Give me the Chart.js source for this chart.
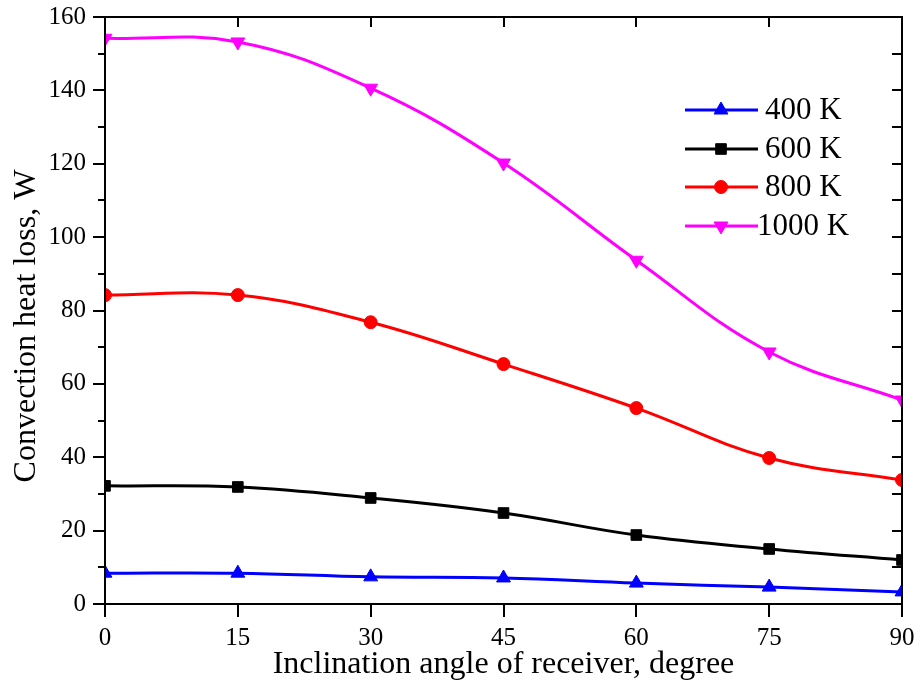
<!DOCTYPE html>
<html><head><meta charset="utf-8">
<script src="https://cdn.jsdelivr.net/npm/chart.js@4/dist/chart.umd.min.js"></script>
<style>html,body{margin:0;padding:0;background:#fff}#wrap{width:916px;height:687px}</style>
</head><body><div id="wrap"><canvas id="c" width="916" height="687"></canvas></div>
<script>
const angles = [0, 15, 30, 45, 60, 75, 90];
const loss400 = [8.4, 8.4, 7.4, 7.1, 5.7, 4.6, 3.3];
const loss600 = [32.2, 31.9, 28.9, 24.8, 18.8, 15.0, 12.0];
const loss800 = [84.2, 84.2, 76.8, 65.4, 53.4, 39.8, 33.8];
const loss1000 = [154.2, 153.2, 140.6, 120.2, 93.7, 68.7, 55.6];
const seriesLabels = ['400 K', '600 K', '800 K', '1000 K'];
const yTicks = [0, 20, 40, 60, 80, 100, 120, 140, 160];
const xTicks = [0, 15, 30, 45, 60, 75, 90];
const xTitle = 'Inclination angle of receiver, degree';
const yTitle = 'Convection heat loss, W';

const FONT = "'Liberation Serif', 'Times New Roman', serif";
function ds(label, vals, color, style, radius, rot) {
  return {
    label, data: angles.map((a, i) => ({x: a, y: vals[i]})),
    borderColor: color, backgroundColor: color, borderWidth: 3,
    pointStyle: style, pointRadius: radius, pointRotation: rot || 0,
    pointBorderWidth: 1, tension: 0.4
  };
}
const datasets = [
  ds(seriesLabels[0], loss400, '#0000ff', 'triangle', 8),
  ds(seriesLabels[1], loss600, '#000000', 'rect', 7.5),
  ds(seriesLabels[2], loss800, '#ff0000', 'circle', 6.5),
  ds(seriesLabels[3], loss1000, '#ff00ff', 'triangle', 8, 180)
];

const framePlugin = {
  id: 'frame',
  afterDatasetsDraw(chart) {
    const {ctx, chartArea: a, scales: {x, y}} = chart;
    ctx.save();
    ctx.strokeStyle = '#000'; ctx.lineWidth = 2;
    ctx.strokeRect(a.left, a.top, a.right - a.left, a.bottom - a.top);
    ctx.beginPath();
    for (let v = 0; v <= 160; v += 10) {
      const py = Math.round(y.getPixelForValue(v));
      const major = v % 20 === 0;
      ctx.moveTo(a.left, py); ctx.lineTo(a.left - (major ? 12 : 7), py);
      ctx.moveTo(a.right, py); ctx.lineTo(a.right - 10, py);
    }
    xTicks.forEach(v => {
      const px = Math.round(x.getPixelForValue(v));
      ctx.moveTo(px, a.bottom); ctx.lineTo(px, a.bottom + 13);
      ctx.moveTo(px, a.top); ctx.lineTo(px, a.top + 10);
    });
    ctx.stroke();
    // y axis title
    ctx.save();
    ctx.translate(27, 326); ctx.rotate(-Math.PI / 2);
    ctx.fillStyle = '#000'; ctx.font = '32px ' + FONT;
    ctx.textAlign = 'center'; ctx.textBaseline = 'middle';
    ctx.fillText(yTitle, 0, 0);
    ctx.restore();
    // legend
    const rows = [110, 149, 187, 226];
    chart.data.datasets.forEach((d, i) => {
      const ly = rows[i];
      ctx.strokeStyle = d.borderColor; ctx.lineWidth = 3;
      ctx.beginPath(); ctx.moveTo(685, ly); ctx.lineTo(758, ly); ctx.stroke();
      ctx.fillStyle = d.backgroundColor; ctx.strokeStyle = d.borderColor; ctx.lineWidth = 1;
      Chart.helpers.drawPoint(ctx, {pointStyle: d.pointStyle, radius: d.pointRadius, rotation: d.pointRotation, borderWidth: 1}, 721, ly);
      ctx.fillStyle = '#000'; ctx.font = '31px ' + FONT;
      ctx.textBaseline = 'middle'; ctx.textAlign = 'left';
      ctx.fillText(d.label, i === 3 ? 757 : 765, ly + 1);
    });
    ctx.restore();
  }
};

new Chart(document.getElementById('c'), {
  type: 'line',
  data: {datasets},
  options: {
    responsive: false, animation: false,
    layout: {padding: {top: 17, right: 14, left: 0, bottom: 0}},
    plugins: {legend: {display: false}, tooltip: {enabled: false}},
    scales: {
      x: {
        type: 'linear', min: 0, max: 90,
        afterBuildTicks: s => { s.ticks = xTicks.map(v => ({value: v})); },
        afterFit: s => { s.height = 83; s.paddingLeft = 0; s.paddingRight = 0; },
        grid: {display: false, drawTicks: false}, border: {display: false},
        ticks: {color: '#000', font: {family: FONT, size: 25}, padding: 19, maxRotation: 0},
        title: {display: true, text: xTitle, color: '#000',
                font: {family: FONT, size: 32}, padding: {top: 0, bottom: 3}}
      },
      y: {
        type: 'linear', min: 0, max: 160,
        afterBuildTicks: s => { s.ticks = yTicks.map(v => ({value: v})); },
        afterFit: s => { s.width = 105; s.paddingTop = 0; s.paddingBottom = 0; },
        grid: {display: false, drawTicks: false}, border: {display: false},
        ticks: {color: '#000', font: {family: FONT, size: 25}, padding: 19},
        title: {display: false}
      }
    }
  },
  plugins: [framePlugin]
});
</script></body></html>
